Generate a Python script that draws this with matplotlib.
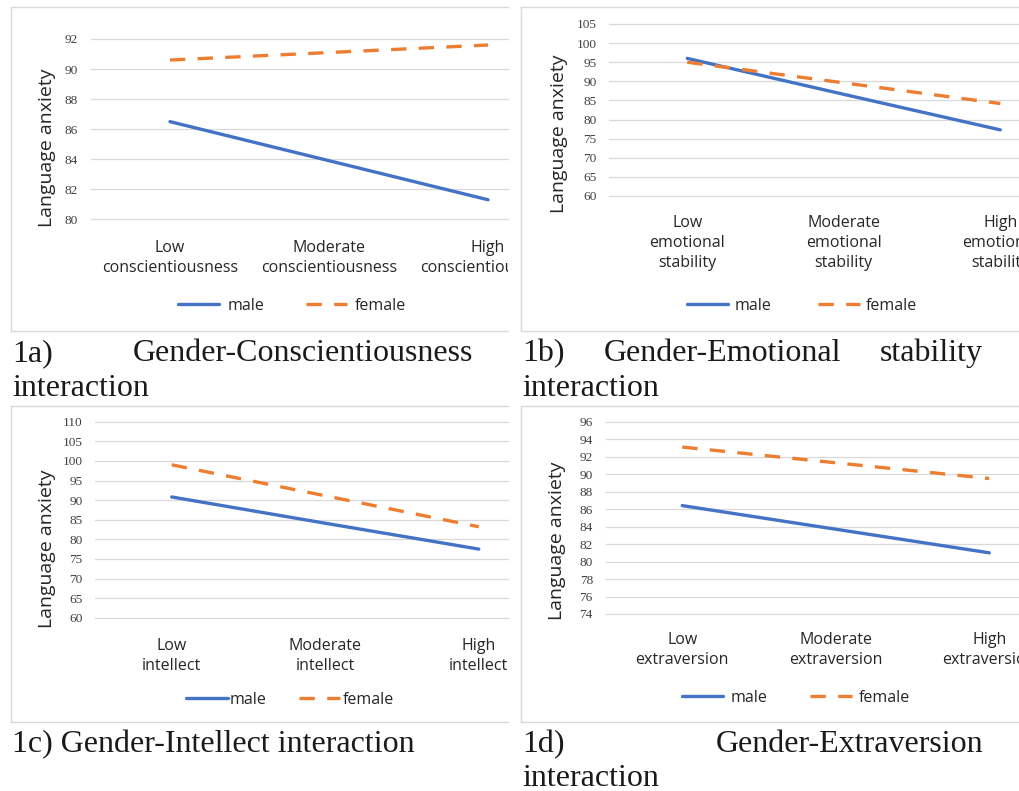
import matplotlib
matplotlib.use('Agg')
import matplotlib.pyplot as plt
from matplotlib.lines import Line2D
from matplotlib.transforms import Bbox, TransformedBbox, blended_transform_factory

# figure size in pixels (dpi 100)
W, H = 1019, 791

# ---- data ----
cats_1a = ['Low\nconscientiousness', 'Moderate\nconscientiousness', 'High\nconscientiousness']
male_1a = [86.5, 83.9, 81.3]
female_1a = [90.6, 91.1, 91.6]
yticks_1a = list(range(80, 93, 2))

cats_1b = ['Low\nemotional\nstability', 'Moderate\nemotional\nstability', 'High\nemotional\nstability']
male_1b = [96.0, 86.6, 77.3]
female_1b = [95.0, 89.6, 84.2]
yticks_1b = list(range(60, 106, 5))

cats_1c = ['Low\nintellect', 'Moderate\nintellect', 'High\nintellect']
male_1c = [90.8, 84.1, 77.5]
female_1c = [99.0, 91.1, 83.2]
yticks_1c = list(range(60, 111, 5))

cats_1d = ['Low\nextraversion', 'Moderate\nextraversion', 'High\nextraversion']
male_1d = [86.4, 83.7, 81.0]
female_1d = [93.1, 91.3, 89.5]
yticks_1d = list(range(74, 97, 2))

series_names = ['male', 'female']
ylabel = 'Language anxiety'

BLUE = '#4472C4'
ORANGE = '#ED7D31'
GRID = '#D9D9D9'
TXT = '#262626'
TICK = '#404040'
SANS = 'Open Sans'
SERIF = 'Liberation Serif'

fig = plt.figure(figsize=(W / 100, H / 100), dpi=100)


def fx(x):
    return x / W


def fy(y):
    return 1 - y / H


def panel(box, left, top, bottom, spacing, yticks, cats, male, female,
          cat_y, ylab_xy, leg_xy, textpad, colspace):
    x0, y0, x1, y1 = box
    # chart border (right side is cut off in the source)
    for xs, ys in [((x0, x1), (y0, y0)), ((x0, x0), (y0, y1)), ((x0, x1), (y1, y1))]:
        fig.add_artist(Line2D([fx(v) for v in xs], [fy(v) for v in ys],
                              transform=fig.transFigure, color=GRID, lw=1.0))

    ax = fig.add_axes([fx(left), fy(bottom), (x1 - left) / W, (bottom - top) / H])
    ax.set_xlim(-0.5, -0.5 + (x1 - left) / spacing)
    ax.set_ylim(yticks[0], yticks[-1])
    x = range(len(cats))
    ax.plot(x, male, color=BLUE, lw=2.4, solid_capstyle='round', label=series_names[0])
    ax.plot(x, female, color=ORANGE, lw=2.4, dashes=(4.6, 3.7), label=series_names[1])
    ax.set_yticks(yticks)
    ax.set_xticks([])
    ax.tick_params(axis='y', length=0, pad=9, labelsize=9.6, labelcolor=TICK)
    for lbl in ax.get_yticklabels():
        lbl.set_family(SERIF)
    ax.yaxis.grid(True, color=GRID, lw=0.9)
    for gl in ax.get_ygridlines():
        gl.set_clip_on(False)
    ax.set_axisbelow(True)
    for s in ax.spines.values():
        s.set_visible(False)
    ax.patch.set_alpha(0)

    clip = TransformedBbox(Bbox.from_extents(fx(x0), fy(y1), fx(x1), fy(y0)), fig.transFigure)
    tr = blended_transform_factory(ax.transData, fig.transFigure)
    for i, c in enumerate(cats):
        t = fig.text(i, fy(cat_y), c, transform=tr, ha='center', va='center',
                     fontsize=11.5, family=SANS, color=TXT, linespacing=1.3)
        t.set_clip_box(clip)
        t.set_clip_on(True)

    fig.text(fx(ylab_xy[0]), fy(ylab_xy[1]), ylabel, rotation=90, ha='center', va='center',
             fontsize=14, family=SANS, color=TXT)

    ax.legend(loc='center', bbox_to_anchor=(fx(leg_xy[0]), fy(leg_xy[1])),
              bbox_transform=fig.transFigure, ncol=2, frameon=False,
              prop={'family': SANS, 'size': 11.5}, labelcolor=TXT,
              handlelength=2.6, handletextpad=textpad, columnspacing=colspace,
              borderpad=0, borderaxespad=0)
    return ax


panel((11, 7, 508, 331), 90.5, 39, 219.3, 159, yticks_1a, cats_1a, male_1a, female_1a,
      258, (47, 147.5), (292, 306), 0.5, 2.6)
panel((521, 7, 1019, 331), 609, 24, 196, 156.5, yticks_1b, cats_1b, male_1b, female_1b,
      243, (559, 134), (802, 306), 0.4, 2.9)
panel((11, 406, 508, 722), 95, 421.7, 617.7, 153.5, yticks_1c, cats_1c, male_1c, female_1c,
      656, (47, 549), (290, 700), 0.15, 2.0)
panel((521, 406, 1019, 722), 605.5, 421.7, 614, 153.5, yticks_1d, cats_1d, male_1d, female_1d,
      650, (557, 540.5), (796, 698), 0.45, 2.7)

# ---- captions (justified like the source document) ----
renderer = fig.canvas.get_renderer()
CAP = '#1a1a1a'


def justified(words, xl, xr, base):
    texts = [fig.text(0, fy(base), w, fontsize=23, family=SERIF, color=CAP,
                      va='baseline', ha='left') for w in words]
    widths = [t.get_window_extent(renderer).width for t in texts]
    gap = (xr - xl - sum(widths)) / (len(words) - 1)
    pos = xl
    for t, w in zip(texts, widths):
        t.set_x(fx(pos))
        pos += w + gap


def plain(s, xl, base):
    fig.text(fx(xl), fy(base), s, fontsize=23, family=SERIF, color=CAP,
             va='baseline', ha='left')


justified(['1a)', 'Gender-Conscientiousness'], 12, 473, 361)
plain('interaction', 12, 396)
justified(['1b)', 'Gender-Emotional', 'stability'], 522, 983, 361)
plain('interaction', 522, 396)
plain('1c) Gender-Intellect interaction', 12, 752)
justified(['1d)', 'Gender-Extraversion'], 522, 983, 752)
plain('interaction', 522, 786)

fig.savefig('out.png', dpi=100)
